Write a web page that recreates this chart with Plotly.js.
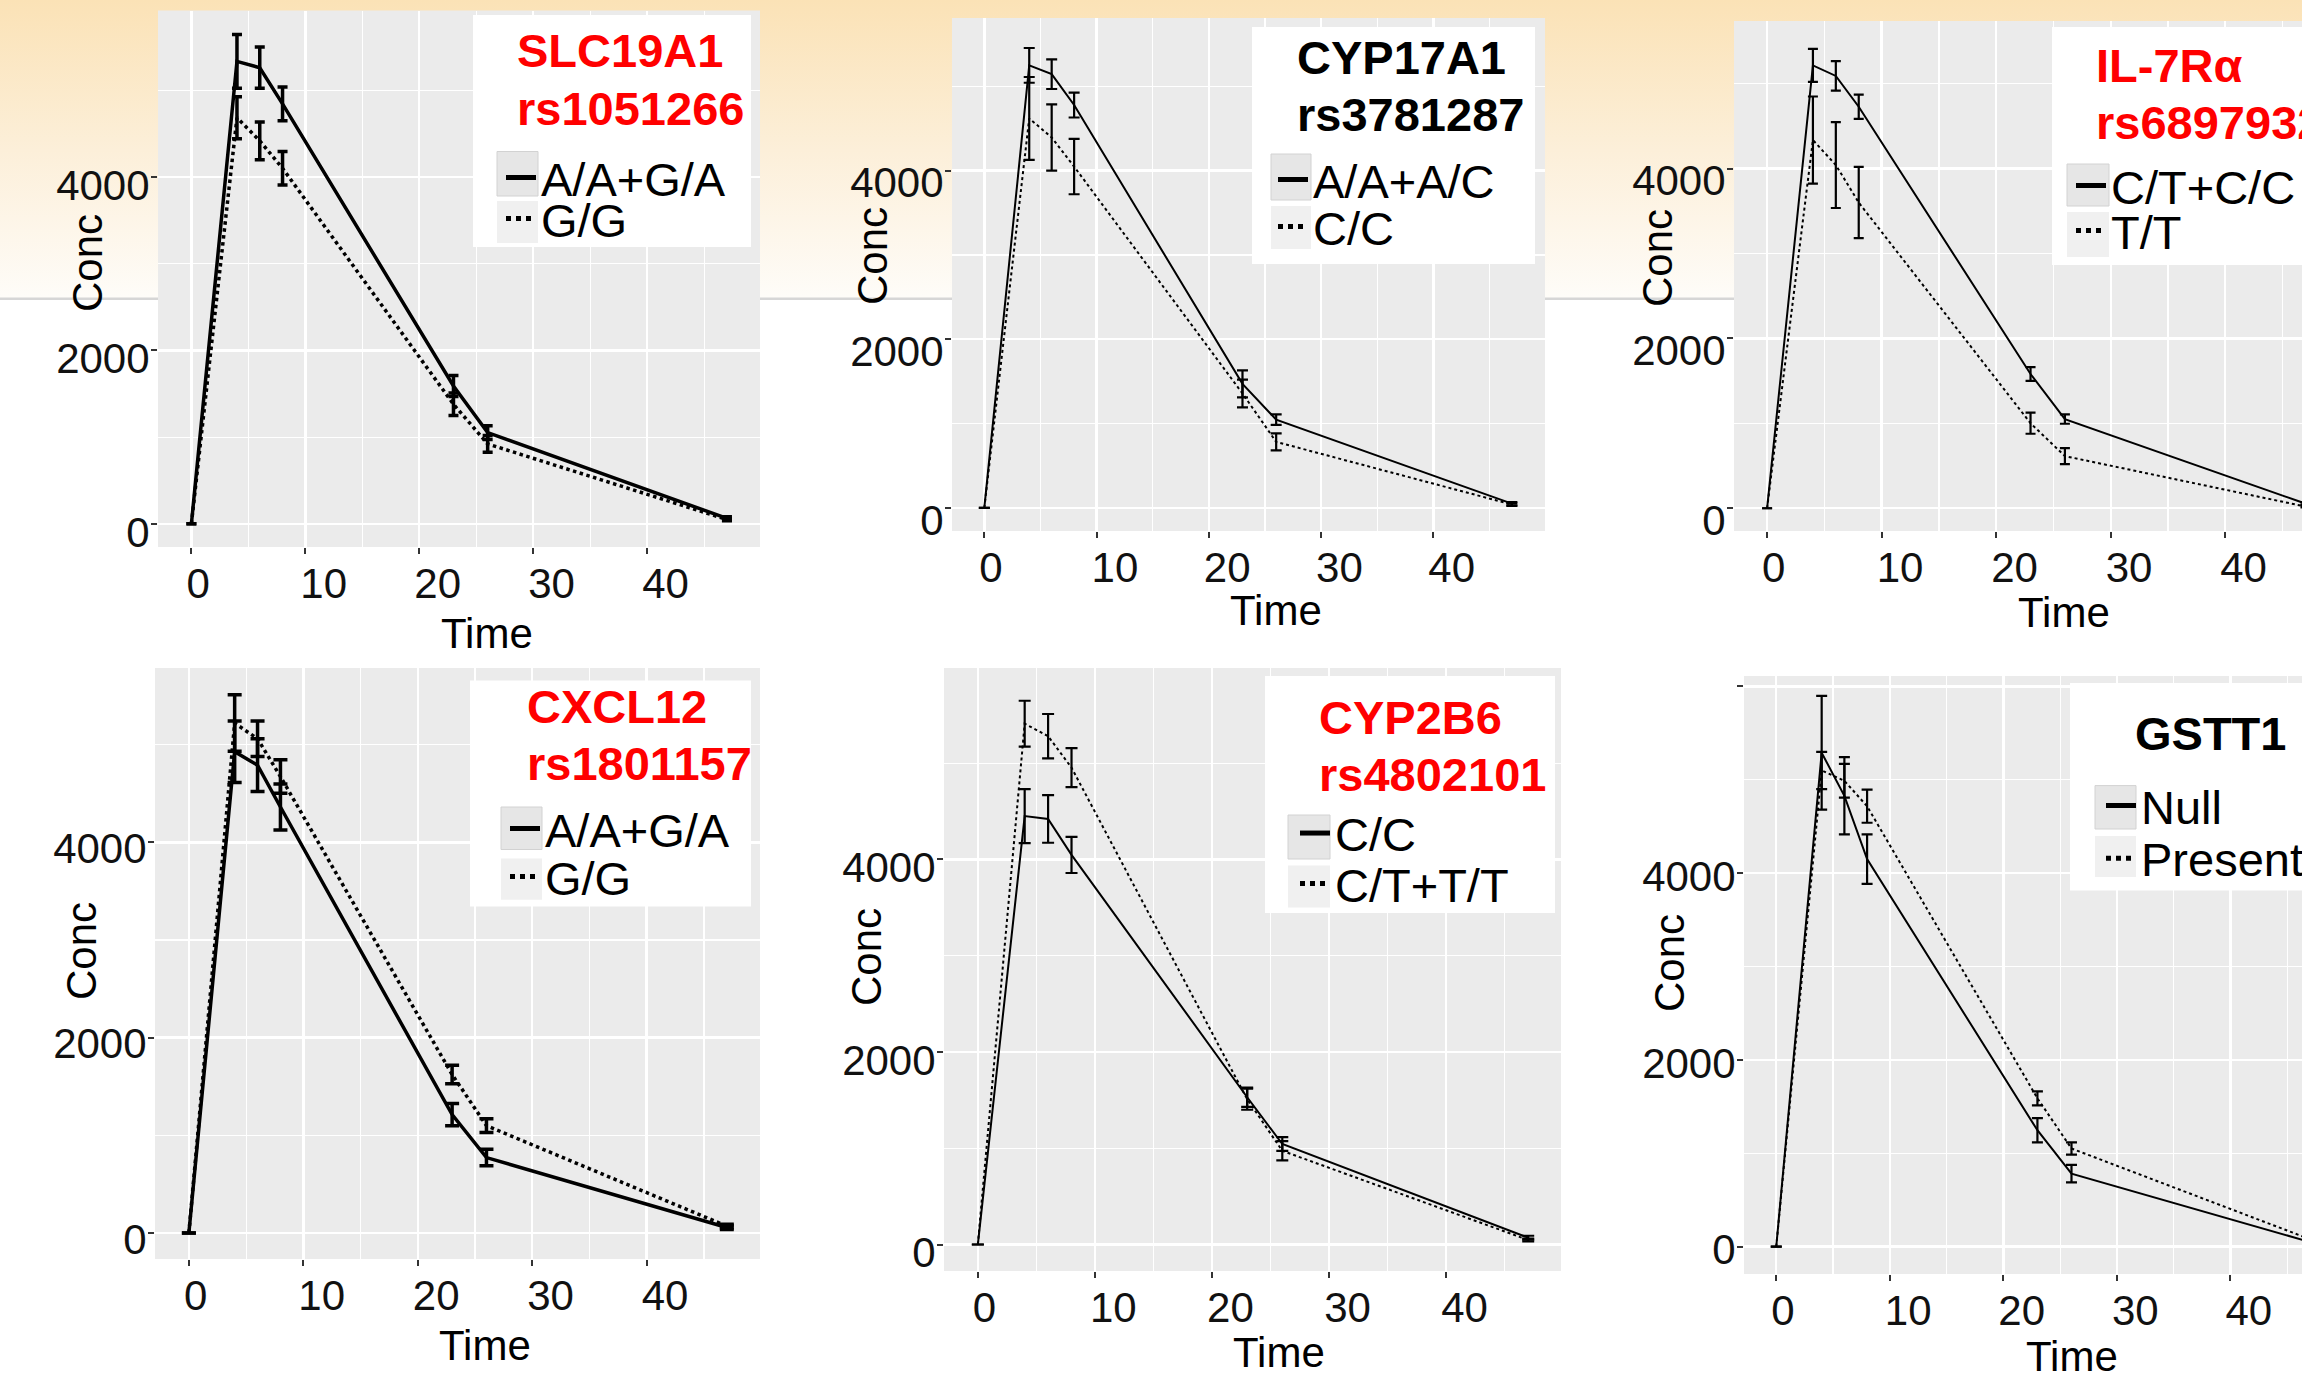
<!DOCTYPE html>
<html>
<head>
<meta charset="utf-8">
<script src="https://cdn.plot.ly/plotly-3.0.1.min.js"></script>
<style>
html, body { margin: 0; padding: 0; background: #ffffff; }
#chart {
  width: 2302px; height: 1376px;
  background: linear-gradient(to bottom, #FBE2B6 0px, #FCEFD9 150px, #FEFCF8 297px, #D6D6D6 298px, #D6D6D6 300px, #FFFFFF 300px, #FFFFFF 100%);
}
</style>
</head>
<body>
<div id="chart"></div>
<script>
// ---------------- data ----------------
const timeHours = [0, 4, 6, 8, 23, 26, 47];
const xTickVals = [0, 10, 20, 30, 40];
const yTickVals = [0, 2000, 4000, 6000];
const yTickText = ['0', '2000', '4000', ''];

// Panel 1: SLC19A1 rs1051266
const slcGenes = ['SLC19A1', 'rs1051266'];
const slcGroups = ['A/A+G/A', 'G/G'];
const slcMean1 = [0, 5335, 5262, 4845, 1590, 1053, 63];
const slcErr1  = [0, 311, 238, 194, 120, 80, 20];
const slcMean2 = [0, 4685, 4418, 4102, 1380, 922, 50];
const slcErr2  = [0, 243, 218, 194, 130, 97, 15];

// Panel 2: CYP17A1 rs3781287
const cyp17Genes = ['CYP17A1', 'rs3781287'];
const cyp17Groups = ['A/A+A/C', 'C/C'];
const cyp17Mean1 = [0, 5248, 5144, 4778, 1471, 1047, 50];
const cyp17Err1  = [0, 206, 176, 148, 160, 62, 20];
const cyp17Mean2 = [0, 4619, 4393, 4048, 1357, 783, 40];
const cyp17Err2  = [0, 491, 393, 328, 165, 100, 15];

// Panel 3: IL-7Rα rs6897932
const il7Genes = ['IL-7Rα', 'rs6897932'];
const il7Groups = ['C/T+C/C', 'T/T'];
const il7Mean1 = [0, 5215, 5091, 4728, 1581, 1050, 55];
const il7Err1  = [0, 194, 174, 142, 80, 55, 15];
const il7Mean2 = [0, 4336, 4042, 3600, 1001, 614, 20];
const il7Err2  = [0, 513, 506, 419, 124, 94, 10];

// Panel 4: CXCL12 rs1801157
const cxclGenes = ['CXCL12', 'rs1801157'];
const cxclGroups = ['A/A+G/A', 'G/G'];
const cxclMean1 = [0, 4930, 4791, 4363, 1212, 772, 56];
const cxclErr1  = [0, 315, 270, 236, 113, 84, 20];
const cxclMean2 = [0, 5223, 5062, 4675, 1623, 1099, 70];
const cxclErr2  = [0, 290, 182, 171, 94, 70, 20];

// Panel 5: CYP2B6 rs4802101
const cyp2b6Genes = ['CYP2B6', 'rs4802101'];
const cyp2b6Groups = ['C/C', 'C/T+T/T'];
const cyp2b6Mean1 = [0, 4450, 4420, 4047, 1530, 1044, 71];
const cyp2b6Err1  = [0, 280, 247, 188, 100, 71, 20];
const cyp2b6Mean2 = [0, 5410, 5280, 4953, 1510, 973, 47];
const cyp2b6Err2  = [0, 238, 230, 203, 110, 100, 15];

// Panel 6: GSTT1
const gsttGenes = ['GSTT1'];
const gsttGroups = ['Null', 'Present'];
const gsttMean1 = [0, 5290, 4829, 4151, 1247, 782, 50];
const gsttErr1  = [0, 610, 414, 265, 130, 93, 15];
const gsttMean2 = [0, 5100, 4990, 4717, 1589, 1051, 80];
const gsttErr2  = [0, 200, 180, 177, 75, 66, 15];

const xTitle = 'Time';
const yTitle = 'Conc';

// ---------------- layout helpers ----------------
const W = 2302, H = 1376;
const FONT = 'Liberation Sans, Arial, Helvetica, sans-serif';
const fx = px => px / W;
const fy = py => 1 - py / H;

// positions (page pixels) of each panel and of its legend box
const panels = [
  {genes: slcGenes, groups: slcGroups, m1: slcMean1, e1: slcErr1, m2: slcMean2, e2: slcErr2, red: true,
   px: [158, 760], py: [10.5, 547], xr: [-2.93, 49.9], yr: [-267, 5922], lw: 3.5, ew: 3.5, cap: 5, yShift: 8,
   box: [473, 751, 15, 247], titleX: 515, titleY: [50.5, 108],
   keyX: [497, 538], keyY: [[151.5, 196], [201, 243]], textX: 541, textY: [178, 219],
   conc: [87, 263], time: [487, 633]},
  {genes: cyp17Genes, groups: cyp17Groups, m1: cyp17Mean1, e1: cyp17Err1, m2: cyp17Mean2, e2: cyp17Err2, red: false,
   px: [952, 1545], py: [18, 531], xr: [-2.88, 49.95], yr: [-274, 5810], lw: 2, ew: 2.2, cap: 5.5, yShift: 12,
   box: [1252, 1535, 27, 264], titleX: 1295, titleY: [58, 115],
   keyX: [1271, 1311], keyY: [[154, 200], [206, 249]], textX: 1313, textY: [180, 227],
   conc: [872, 256], time: [1276, 610]},
  {genes: il7Genes, groups: il7Groups, m1: il7Mean1, e1: il7Err1, m2: il7Mean2, e2: il7Err2, red: true,
   px: [1734, 2302], py: [21, 531], xr: [-2.89, 46.7], yr: [-268, 5738], lw: 2, ew: 2.2, cap: 5, yShift: 12,
   box: [2052, 2330, 27, 265], titleX: 2094, titleY: [66, 122],
   keyX: [2067, 2109], keyY: [[164, 206], [212, 257]], textX: 2111, textY: [186, 231],
   conc: [1657, 258], time: [2064, 612]},
  {genes: cxclGenes, groups: cxclGroups, m1: cxclMean1, e1: cxclErr1, m2: cxclMean2, e2: cxclErr2, red: true,
   px: [155, 760], py: [668, 1259], xr: [-2.96, 49.9], yr: [-267, 5787], lw: 3.5, ew: 3.5, cap: 7, yShift: 6,
   box: [470, 751, 680.5, 906.6], titleX: 525, titleY: [706.6, 763.7],
   keyX: [501, 542], keyY: [[807, 849.5], [858.6, 899.7]], textX: 545, textY: [829, 877],
   conc: [82, 951], time: [485, 1345]},
  {genes: cyp2b6Genes, groups: cyp2b6Groups, m1: cyp2b6Mean1, e1: cyp2b6Err1, m2: cyp2b6Mean2, e2: cyp2b6Err2, red: true,
   px: [944, 1561], py: [668, 1271], xr: [-2.89, 49.8], yr: [-275, 5988], lw: 2, ew: 2.2, cap: 6, yShift: 8,
   box: [1265, 1555, 676, 913], titleX: 1317, titleY: [717, 775],
   keyX: [1288, 1330], keyY: [[815, 859], [865.5, 907.5]], textX: 1335, textY: [833.5, 884],
   conc: [866, 957], time: [1279, 1352]},
  {genes: gsttGenes, groups: gsttGroups, m1: gsttMean1, e1: gsttErr1, m2: gsttMean2, e2: gsttErr2, red: false,
   px: [1744, 2302], py: [676, 1274], xr: [-2.84, 46.3], yr: [-293, 6112], lw: 2, ew: 2.2, cap: 5.5, yShift: 3,
   box: [2070, 2330, 683, 890.6], titleX: 2133, titleY: [733],
   keyX: [2095, 2136], keyY: [[785.6, 829], [836, 877]], textX: 2141, textY: [806, 858.6],
   conc: [1669, 963], time: [2072, 1356]}
];

const data = [];
const layout = {
  width: W, height: H,
  margin: {l: 0, r: 0, t: 0, b: 0, pad: 0, autoexpand: false},
  paper_bgcolor: 'rgba(0,0,0,0)',
  plot_bgcolor: '#EBEBEB',
  font: {family: FONT, color: '#000'},
  showlegend: true,
  annotations: [],
  shapes: []
};

let legendCount = 0;
function nextLegend() {
  legendCount += 1;
  return legendCount === 1 ? 'legend' : 'legend' + legendCount;
}

panels.forEach((p, i) => {
  const n = i + 1;
  const sfx = n === 1 ? '' : String(n);
  const xa = 'x' + sfx, ya = 'y' + sfx;
  const series = [
    {y: p.m1, err: p.e1, name: p.groups[0], dash: 'solid'},
    {y: p.m2, err: p.e2, name: p.groups[1], dash: 'dot'}
  ];

  // legend box (white panel) drawn above the plot area
  layout.shapes.push({
    type: 'rect', xref: 'paper', yref: 'paper', layer: 'above',
    x0: fx(p.box[0]), x1: fx(p.box[1]), y0: fy(p.box[3]), y1: fy(p.box[2]),
    fillcolor: '#FFFFFF', line: {width: 0}
  });

  // legend title lines
  p.genes.forEach((g, k) => {
    layout.annotations.push({
      xref: 'paper', yref: 'paper', x: fx(p.titleX), y: fy(p.titleY[k]),
      xanchor: 'left', yanchor: 'middle', showarrow: false, text: '<b>' + g + '</b>',
      font: {family: FONT, size: 47, color: p.red ? '#FF0000' : '#000000'}
    });
  });

  series.forEach((s, k) => {
    const legName = nextLegend();
    // grey key background
    layout.shapes.push({
      type: 'rect', xref: 'paper', yref: 'paper', layer: 'above',
      x0: fx(p.keyX[0]), x1: fx(p.keyX[1]), y0: fy(p.keyY[k][1]), y1: fy(p.keyY[k][0]),
      fillcolor: k === 0 ? '#E6E6E6' : '#F0F0F0', line: {width: k === 0 ? 1 : 0, color: '#D2D2D2'}
    });
    data.push({
      type: 'scatter', mode: 'lines', x: timeHours, y: s.y, name: s.name,
      xaxis: xa, yaxis: ya, legend: legName, cliponaxis: true,
      line: {color: '#000', width: p.lw, dash: s.dash},
      error_y: {type: 'data', array: s.err, visible: true, color: '#000', thickness: p.ew, width: p.cap},
      hoverinfo: 'skip'
    });
    layout[legName] = {
      x: fx(p.textX - 40), y: fy(p.textY[k]), xanchor: 'left', yanchor: 'middle',
      xref: 'paper', yref: 'paper',
      bgcolor: 'rgba(0,0,0,0)', borderwidth: 0,
      font: {family: FONT, size: 47, color: '#000'},
      itemwidth: 30, itemsizing: 'constant', tracegroupgap: 0
    };
  });

  layout['xaxis' + sfx] = {
    domain: [fx(p.px[0]), fx(p.px[1])], range: p.xr, anchor: ya,
    tickmode: 'array', tickvals: xTickVals,
    ticks: 'outside', ticklen: 6, tickwidth: 2, tickcolor: '#333',
    ticklabelposition: 'outside right', ticklabelshift: -6,
    ticklabelstandoff: 0,
    tickfont: {family: FONT, size: 42, color: '#111'},
    showgrid: true, gridcolor: '#FFFFFF', gridwidth: 2.4,
    minor: {tickmode: 'array', tickvals: [5, 15, 25, 35, 45], showgrid: true, gridcolor: '#FFFFFF', gridwidth: 1.2, ticks: ''},
    zeroline: false, showline: false, fixedrange: true
  };
  layout['yaxis' + sfx] = {
    domain: [fy(p.py[1]), fy(p.py[0])], range: p.yr, anchor: xa,
    tickmode: 'array', tickvals: yTickVals, ticktext: yTickText,
    ticks: 'outside', ticklen: 6, tickwidth: 2, tickcolor: '#333',
    ticklabelstandoff: -7, ticklabelshift: p.yShift,
    tickfont: {family: FONT, size: 42, color: '#111'},
    showgrid: true, gridcolor: '#FFFFFF', gridwidth: 2.4,
    minor: {tickmode: 'array', tickvals: [1000, 3000, 5000], showgrid: true, gridcolor: '#FFFFFF', gridwidth: 1.2, ticks: ''},
    zeroline: false, showline: false, fixedrange: true
  };

  layout.annotations.push({
    xref: 'paper', yref: 'paper', x: fx(p.conc[0]), y: fy(p.conc[1]),
    xanchor: 'center', yanchor: 'middle', textangle: -90, showarrow: false,
    text: yTitle, font: {family: FONT, size: 42, color: '#000'}
  });
  layout.annotations.push({
    xref: 'paper', yref: 'paper', x: fx(p.time[0]), y: fy(p.time[1]),
    xanchor: 'center', yanchor: 'middle', showarrow: false,
    text: xTitle, font: {family: FONT, size: 42, color: '#000'}
  });
});

Plotly.newPlot('chart', data, layout, {staticPlot: true, displayModeBar: false});
</script>
</body>
</html>
